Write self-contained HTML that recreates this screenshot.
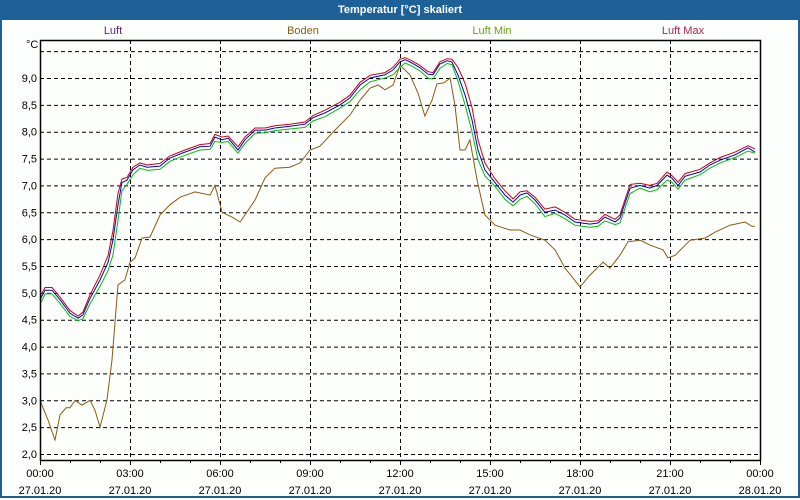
<!DOCTYPE html>
<html><head><meta charset="utf-8"><style>
html,body{margin:0;padding:0;background:#fff;}
#win{position:relative;width:796px;height:496px;border:2px solid #1e5f97;border-top:none;background:#fdfffd;overflow:hidden;}
#bar{position:absolute;left:-2px;top:0;width:800px;height:20px;background:#1e6098;color:#fff;font:bold 11px "Liberation Sans",sans-serif;text-align:center;line-height:20px;}
svg text{font-family:"Liberation Sans",sans-serif;font-size:11px;}
</style></head><body>
<div id="win">
<div id="bar">Temperatur [°C] skaliert</div>
<svg id="chart" width="800" height="500" style="position:absolute;left:-2px;top:0">
<text x="113" y="34" fill="#5a1a9a" text-anchor="middle">Luft</text>
<text x="303" y="34" fill="#8a5a10" text-anchor="middle">Boden</text>
<text x="492" y="34" fill="#6aa010" text-anchor="middle">Luft Min</text>
<text x="683" y="34" fill="#b02050" text-anchor="middle">Luft Max</text>
<text x="26" y="48" fill="#000">°C</text>
<g id="grid"></g><g id="series"></g><g id="axes"></g>
</svg>
</div>
<script>
const yTicks=[2.0,2.5,3.0,3.5,4.0,4.5,5.0,5.5,6.0,6.5,7.0,7.5,8.0,8.5,9.0,9.5];
const xTickHours=[0,3,6,9,12,15,18,21,24];
const xTimeLabels=["00:00","03:00","06:00","09:00","12:00","15:00","18:00","21:00","00:00"];
const xDateLabels=["27.01.20","27.01.20","27.01.20","27.01.20","27.01.20","27.01.20","27.01.20","27.01.20","28.01.20"];
const hours=[0,0.17,0.4,0.67,1.0,1.27,1.43,1.67,2.0,2.27,2.43,2.6,2.73,2.9,3.1,3.33,3.57,4.0,4.33,4.83,5.33,5.67,5.83,6.07,6.27,6.6,6.83,7.17,7.5,7.83,8.33,8.83,9.1,9.5,10.0,10.33,10.67,11.0,11.5,11.77,12.0,12.17,12.4,12.67,12.93,13.1,13.33,13.57,13.73,13.93,14.17,14.4,14.6,14.83,15.17,15.5,15.77,16.0,16.23,16.5,16.83,17.17,17.5,17.83,18.33,18.6,18.83,19.17,19.33,19.67,20.0,20.33,20.57,20.9,21.07,21.27,21.5,22.0,22.33,22.67,23.17,23.6,23.83];
const luft=[4.87,5.05,5.05,4.87,4.62,4.53,4.59,4.9,5.24,5.57,5.98,6.64,7.05,7.1,7.29,7.38,7.34,7.36,7.51,7.62,7.72,7.73,7.9,7.85,7.88,7.66,7.85,8.03,8.03,8.07,8.1,8.14,8.26,8.35,8.5,8.63,8.87,9.0,9.06,9.15,9.3,9.34,9.28,9.19,9.07,9.06,9.26,9.32,9.3,9.06,8.68,8.22,7.66,7.29,7.05,6.82,6.69,6.82,6.86,6.73,6.5,6.54,6.45,6.32,6.28,6.3,6.41,6.32,6.39,6.95,7.0,6.95,7.0,7.19,7.13,7.0,7.17,7.25,7.38,7.47,7.57,7.7,7.62];
const luftMax=[4.93,5.1,5.1,4.92,4.67,4.57,4.64,4.97,5.33,5.7,6.15,6.85,7.12,7.15,7.34,7.42,7.38,7.41,7.55,7.66,7.76,7.78,7.95,7.9,7.92,7.72,7.9,8.07,8.07,8.11,8.14,8.18,8.3,8.4,8.55,8.68,8.92,9.05,9.1,9.2,9.35,9.38,9.32,9.23,9.12,9.1,9.3,9.36,9.35,9.2,8.9,8.45,7.85,7.42,7.12,6.9,6.75,6.88,6.9,6.78,6.56,6.6,6.5,6.37,6.33,6.34,6.46,6.37,6.45,7.02,7.04,7.0,7.04,7.25,7.18,7.06,7.22,7.3,7.42,7.52,7.62,7.74,7.68];
const luftMin=[4.78,4.98,4.98,4.8,4.56,4.48,4.52,4.8,5.12,5.42,5.7,6.35,6.9,7.02,7.2,7.32,7.28,7.3,7.45,7.56,7.66,7.67,7.82,7.8,7.82,7.6,7.78,7.97,7.98,8.02,8.05,8.08,8.2,8.28,8.44,8.56,8.78,8.93,9.0,9.06,9.2,9.28,9.22,9.13,9.0,8.98,9.18,9.27,9.25,8.95,8.5,8.0,7.48,7.18,6.98,6.74,6.62,6.74,6.8,6.66,6.42,6.48,6.38,6.26,6.22,6.24,6.34,6.27,6.3,6.85,6.95,6.88,6.92,7.1,7.06,6.93,7.1,7.2,7.32,7.42,7.52,7.64,7.6];
const bodenHours=[0,0.27,0.5,0.67,0.87,1.0,1.17,1.4,1.67,1.83,2.0,2.23,2.4,2.6,2.83,3.0,3.17,3.4,3.67,4.0,4.33,4.67,5.17,5.67,5.83,6.07,6.4,6.67,6.83,7.17,7.5,7.83,8.33,8.67,9.0,9.33,9.83,10.33,10.67,11.0,11.27,11.5,11.77,12.0,12.33,12.6,12.83,13.07,13.23,13.47,13.67,13.83,14.0,14.17,14.33,14.57,14.83,15.17,15.67,16.0,16.33,16.83,17.17,17.5,17.73,18.0,18.33,18.77,19.0,19.33,19.6,20.0,20.33,20.77,20.93,21.17,21.67,22.17,22.5,23.0,23.5,23.73,23.83];
const boden=[3.0,2.63,2.26,2.73,2.86,2.86,3.0,2.91,3.0,2.82,2.5,3.0,3.75,5.15,5.24,5.57,5.65,6.02,6.04,6.45,6.64,6.78,6.88,6.82,7.0,6.5,6.41,6.32,6.45,6.73,7.14,7.32,7.34,7.42,7.66,7.73,8.03,8.31,8.59,8.81,8.87,8.78,8.87,9.24,9.06,8.72,8.29,8.59,8.89,8.91,9.0,8.5,7.66,7.66,7.85,7.1,6.45,6.26,6.17,6.17,6.08,5.98,5.8,5.46,5.3,5.11,5.33,5.57,5.46,5.7,5.95,5.98,5.89,5.8,5.65,5.7,5.98,6.02,6.13,6.26,6.32,6.24,6.24];

const X0=40,X1=760,Y0=40,Y1=460;
function xs(h){return X0+h*(X1-X0)/24;}
function ys(v){return 454-(v-2)*((454-78)/7);}
const NS="http://www.w3.org/2000/svg";
function mk(tag,attrs,parent){const e=document.createElementNS(NS,tag);for(const k in attrs)e.setAttribute(k,attrs[k]);parent.appendChild(e);return e;}
const grid=document.getElementById('grid'),series=document.getElementById('series'),axes=document.getElementById('axes');
mk('rect',{x:X0,y:Y0,width:X1-X0,height:Y1-Y0,fill:'#fdfffd'},grid);
yTicks.forEach((v,i)=>{
  const l=mk('line',{x1:X0,x2:X1,y1:ys(v)+0.5,y2:ys(v)+0.5,stroke:'#000','stroke-dasharray':'4,3'},grid);
  
  
  if(v<9.5){
    const t=mk('text',{x:37,y:ys(v)+4,'text-anchor':'end',fill:'#000'},axes);
    t.textContent=v.toFixed(1).replace('.',',');
    
    
  }
});
xTickHours.forEach((h,i)=>{
  if(h>0&&h<24){
    const l=mk('line',{x1:xs(h)+0.5,x2:xs(h)+0.5,y1:Y0,y2:Y1,stroke:'#000','stroke-dasharray':'4,3'},grid);
    
    
  }
  const t=mk('text',{x:xs(h),y:477,'text-anchor':'middle',fill:'#000'},axes);
  t.textContent=xTimeLabels[i];
  
  
  const d=mk('text',{x:xs(h),y:494,'text-anchor':'middle',fill:'#000'},axes);
  d.textContent=xDateLabels[i];
  
  
});
for(let h=0;h<=24;h++){
  mk('line',{x1:xs(h)+0.5,x2:xs(h)+0.5,y1:Y1,y2:Y1+(h%3===0?5:3),stroke:'#000'},axes);
}
mk('rect',{x:X0+0.5,y:Y0+0.5,width:X1-X0,height:Y1-Y0,fill:'none',stroke:'#000','stroke-width':1.5},axes);
function path(hs,vs,color,name){
  const d=hs.map((h,i)=>(i?'L':'M')+xs(h).toFixed(1)+','+ys(vs[i]).toFixed(1)).join(' ');
  const p=mk('path',{d:d,fill:'none',stroke:color,'stroke-width':1},series);
  
  
}
path(bodenHours,boden,'#8b5a10','boden-line');
path(hours,luftMin,'#00c000','luft-min-line');
path(hours,luftMax,'#d00000','luft-max-line');
path(hours,luft,'#0000d0','luft-line');
</script>
</body></html>
